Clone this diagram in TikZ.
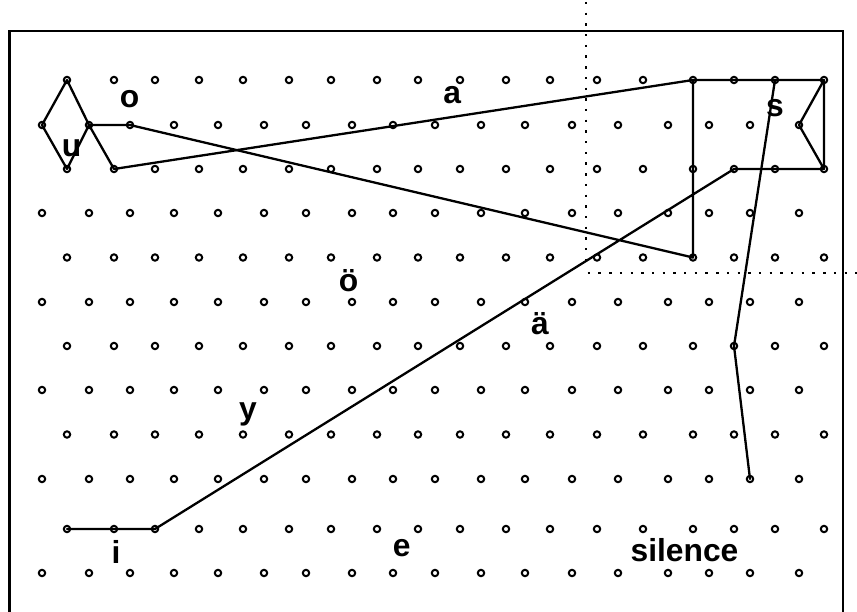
\documentclass[tikz,border=0pt]{standalone}
\usepackage{fontspec}
\setmainfont{Liberation Sans}
\begin{document}
\begin{tikzpicture}[x=1pt,y=-1pt,
  gdot/.style={circle,draw=black,fill=white,line width=2pt,minimum size=6.4pt,inner sep=0pt},
  traj/.style={line width=2.3pt,line join=round,line cap=round},
  lbl/.style={anchor=base,inner sep=0pt,font=\fontsize{31.8}{36}\selectfont\bfseries},
  frame/.style={line width=2.3pt},
  divider/.style={line width=2.4pt,dash pattern=on 2.4pt off 8.3pt}]
\useasboundingbox (0,0) rectangle (857,612);
% frame (bottom edge lies below the picture)
\draw[frame] (9.5,640) -- (9.5,30.7) -- (843.3,30.7) -- (843.3,640);
% dotted dividers
\coordinate (vt) at (585.7,2);
\coordinate (vb) at (585.7,266);
\coordinate (hl) at (587.7,273.3);
\coordinate (hr) at (857,273.3);
\draw[divider] (vt) -- (vb);
\draw[divider] (hl) -- (hr);
% grid of map units
\def\bcols{42,89,130,174,218,264,306,352,393,435,481,525,572,618,668,709,750,799}
\foreach \r/\yy/\off in {1/80/25,2/125/0,3/169/25,4/213/0,5/257.5/25,6/302/0,7/346/25,8/390/0,9/434.5/25,10/479/0,11/529/25,12/573/0}{
  \foreach \xx [count=\c] in \bcols {
    \node[gdot] (g\r-\c) at (\xx+\off,\yy) {};
  }
}
% trajectory
\draw[traj] (g1-1.center) -- (g2-1.center) -- (g3-1.center) -- (g2-2.center) -- cycle;
\draw[traj] (g2-2.center) -- (g2-3.center) -- (g5-15.center) -- (g1-15.center) -- (g1-16.center) -- (g1-17.center) -- (g1-18.center)
  -- (g3-18.center) -- (g3-17.center) -- (g3-16.center) -- (g11-3.center) -- (g11-2.center) -- (g11-1.center);
\draw[traj] (g2-2.center) -- (g3-2.center) -- (g1-15.center);
\draw[traj] (g1-18.center) -- (g2-18.center) -- (g3-18.center);
\draw[traj] (g1-17.center) -- (g7-16.center) -- (g10-17.center);
% labels
\node[lbl] (lo) at (129.5,108) {o};
\node[lbl] (lu) at (71.7,157) {u};
\node[lbl] (la) at (452.3,104) {a};
\node[lbl] (ls) at (775,117) {s};
\node[lbl] (loe) at (348.7,291.7) {ö};
\node[lbl] (lae) at (540,335) {ä};
\node[lbl] (ly) at (248,419) {y};
\node[lbl] (li) at (116,563.3) {i};
\node[lbl] (le) at (401.8,556.5) {e};
\node[lbl] (lsil) at (684.5,561.7) {silence};
\end{tikzpicture}
\end{document}
